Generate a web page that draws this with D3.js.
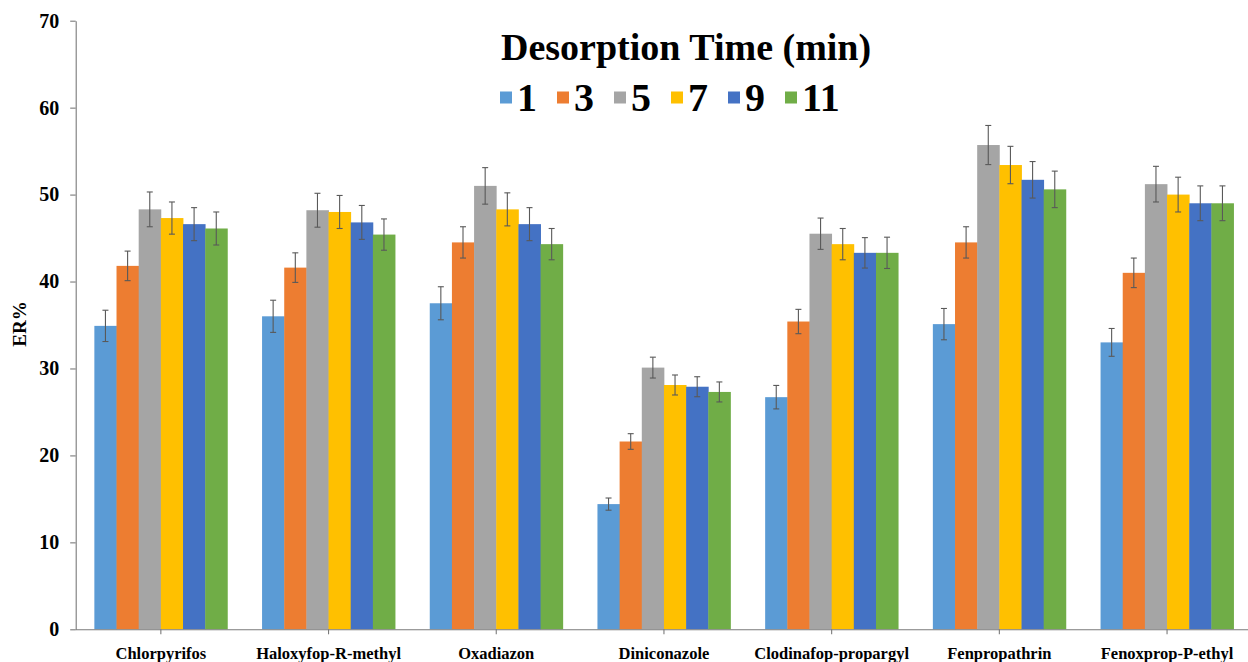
<!DOCTYPE html>
<html>
<head>
<meta charset="utf-8">
<script src="https://cdn.jsdelivr.net/npm/d3@7"></script>
<style>
  html, body { margin: 0; padding: 0; background: #fff; }
  svg { display: block; }
  text { font-family: "Liberation Serif", "Times New Roman", serif; font-weight: bold; fill: #000; }
</style>
</head>
<body>
<svg id="chart" width="1248" height="662"></svg>
<script>
// Pesticides analysed
const categories = ["Chlorpyrifos", "Haloxyfop-R-methyl", "Oxadiazon", "Diniconazole",
                    "Clodinafop-propargyl", "Fenpropathrin", "Fenoxprop-P-ethyl"];

// Desorption times (min)
const times = ["1", "3", "5", "7", "9", "11"];

// Extraction recovery (ER%) for each desorption time, one value per pesticide
const er1  = [34.9, 36.0, 37.5, 14.4, 26.7, 35.1, 33.0];
const er3  = [41.8, 41.6, 44.5, 21.6, 35.4, 44.5, 41.0];
const er5  = [48.3, 48.2, 51.0, 30.1, 45.5, 55.7, 51.2];
const er7  = [47.3, 48.0, 48.3, 28.1, 44.3, 53.4, 50.0];
const er9  = [46.6, 46.8, 46.6, 27.9, 43.3, 51.7, 49.0];
const er11 = [46.1, 45.4, 44.3, 27.3, 43.3, 50.6, 49.0];

// Standard deviations (error bars)
const sd1  = [1.8, 1.85, 1.9, 0.7, 1.35, 1.8, 1.6];
const sd3  = [1.7, 1.7, 1.8, 0.9, 1.4, 1.8, 1.7];
const sd5  = [2.0, 1.95, 2.1, 1.2, 1.8, 2.25, 2.05];
const sd7  = [1.85, 1.9, 1.9, 1.15, 1.8, 2.15, 2.0];
const sd9  = [1.9, 1.95, 1.9, 1.15, 1.75, 2.1, 2.0];
const sd11 = [1.9, 1.8, 1.8, 1.15, 1.8, 2.1, 2.0];

const yTicks = [0, 10, 20, 30, 40, 50, 60, 70];
const colors = ["#5B9BD5", "#ED7D31", "#A5A5A5", "#FFC000", "#4472C4", "#70AD47"];

const seriesValues = [er1, er3, er5, er7, er9, er11];
const seriesErrors = [sd1, sd3, sd5, sd7, sd9, sd11];

const rows = [];
categories.forEach((cat, i) => {
  times.forEach((t, j) => {
    rows.push({ cat, time: t, value: seriesValues[j][i], sd: seriesErrors[j][i], color: colors[j] });
  });
});

const svg = d3.select("#chart");

const x0 = d3.scaleBand()
  .domain(categories)
  .range([77, 1250.9])
  .paddingInner(0.207)
  .paddingOuter(0.1035);

const x1 = d3.scaleBand()
  .domain(times)
  .range([0, x0.bandwidth()])
  .padding(0);

const y = d3.scaleLinear().domain([0, 70]).range([629.3, 20.7]);

// Bars
const g = svg.append("g");
g.selectAll("rect.bar")
  .data(rows)
  .join("rect")
  .attr("class", "bar")
  .attr("x", d => x0(d.cat) + x1(d.time))
  .attr("y", d => y(d.value))
  .attr("width", x1.bandwidth() + 0.4)
  .attr("height", d => y(0) - y(d.value))
  .attr("fill", d => d.color);

// Error bars
const eb = g.selectAll("g.err")
  .data(rows)
  .join("g")
  .attr("class", "err")
  .attr("stroke", "#595959")
  .attr("stroke-width", 1.1);
const cx = d => x0(d.cat) + x1(d.time) + x1.bandwidth() / 2;
eb.append("line")
  .attr("x1", cx).attr("x2", cx)
  .attr("y1", d => y(d.value + d.sd)).attr("y2", d => y(d.value - d.sd));
eb.append("line")
  .attr("x1", d => cx(d) - 3).attr("x2", d => cx(d) + 3)
  .attr("y1", d => y(d.value + d.sd)).attr("y2", d => y(d.value + d.sd));
eb.append("line")
  .attr("x1", d => cx(d) - 3).attr("x2", d => cx(d) + 3)
  .attr("y1", d => y(d.value - d.sd)).attr("y2", d => y(d.value - d.sd));

// Y axis
const yAxis = d3.axisLeft(y).tickValues(yTicks).tickSize(5.5).tickPadding(11).tickSizeOuter(0);
const ya = svg.append("g").attr("transform", "translate(75.7,0)").call(yAxis);
ya.select(".domain").attr("stroke", "#7a7a7a").attr("stroke-width", 1.1);
ya.selectAll(".tick line").attr("stroke", "#7a7a7a").attr("stroke-width", 1.1);
ya.selectAll(".tick text")
  .attr("font-size", 20)
  .attr("font-family", "Liberation Serif, serif")
  .attr("font-weight", "bold")
  .attr("fill", "#000");

// X axis
const xAxis = d3.axisBottom(x0).tickSize(5).tickPadding(13).tickSizeOuter(0);
const xa = svg.append("g").attr("transform", "translate(0,629.3)").call(xAxis);
xa.select(".domain").attr("d", "M75.7,0.5H1248").attr("stroke", "#7a7a7a").attr("stroke-width", 1.1);
xa.selectAll(".tick line").attr("stroke", "#7a7a7a").attr("stroke-width", 1.1);
xa.selectAll(".tick text")
  .attr("font-size", 16.5)
  .attr("font-family", "Liberation Serif, serif")
  .attr("font-weight", "bold")
  .attr("fill", "#000");

// Y axis title
svg.append("text")
  .attr("transform", "translate(26,324) rotate(-90)")
  .attr("text-anchor", "middle")
  .attr("font-size", 19)
  .text("ER%");

// Legend
svg.append("text")
  .attr("x", 501)
  .attr("y", 59.5)
  .attr("font-size", 38)
  .text("Desorption Time (min)");

let lx = 500;
times.forEach((t, j) => {
  svg.append("rect")
    .attr("x", lx).attr("y", 91.5)
    .attr("width", 12).attr("height", 12)
    .attr("fill", colors[j]);
  const txt = svg.append("text")
    .attr("x", lx + 17)
    .attr("y", 110.5)
    .attr("font-size", 40)
    .text(t);
  lx = lx + 17 + txt.node().getComputedTextLength() + 20;
});
</script>
</body>
</html>
